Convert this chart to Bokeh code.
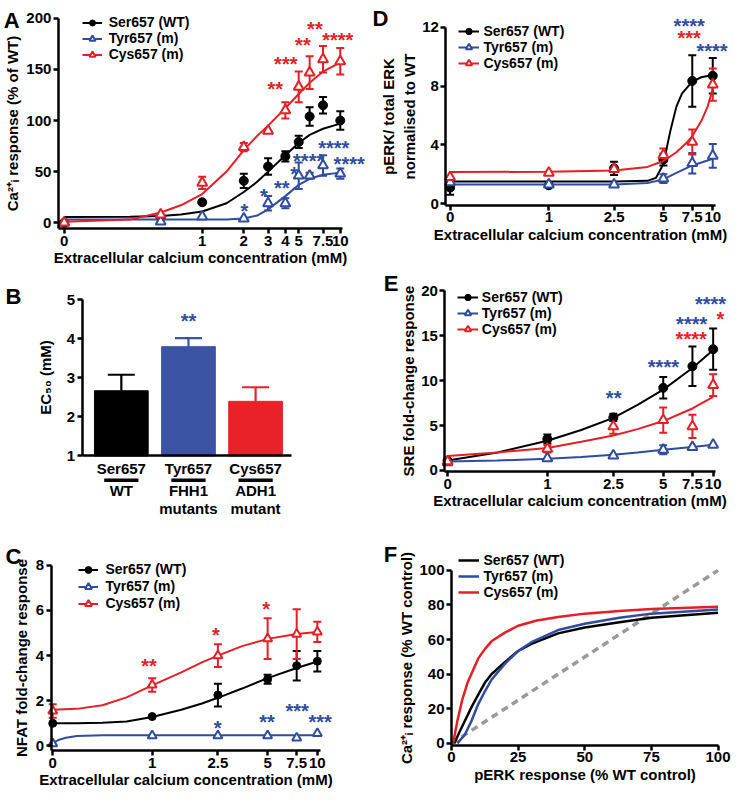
import math
from bokeh.plotting import figure
from bokeh.models import (Range1d, FixedTicker, Whisker, TeeHead, LabelSet, Label,
                          ColumnDataSource, Legend, LegendItem)
from bokeh.layouts import row, column
from bokeh.embed import file_html
from bokeh.resources import INLINE
from bokeh.core.properties import value, field

FONT = "Liberation Sans"
BLACK = "#000000"
BLUE = "#2f4c9f"
RED = "#e41f26"
GREY = "#9a9a9a"
BAR_COLORS = ["#000000", "#3b55a4", "#e92229"]
SERIES = ["Ser657 (WT)", "Tyr657 (m)", "Cys657 (m)"]

# ---------------- Panel A : Ca2+i response ----------------
ZERO_A = 0.1
conc_A = [0, 0.5, 1, 2, 3, 4, 5, 6, 7.5, 10]
ser_A = [0, 5, 20, 41, 55, 65, 79, 104, 115, 100]
ser_A_err = [0, 0, 0, 7, 8, 5, 6, 9, 8, 9]
tyr_A = [0, 1, 6, 4, 19, 19, 46, 46, 56, 48]
tyr_A_err = [0, 0, 0, 0, 7, 5, 13, 3, 10, 5]
cys_A = [0, 8, 39, 74, 90, 110, 133, 147, 160, 158]
cys_A_err = [0, 0, 6, 4, 0, 8, 15, 16, 13, 13]
fit_A_x = [0.1, 0.3, 0.5, 0.7, 1, 1.5, 2, 2.5, 3, 4, 5, 6, 7.5, 10]
ser_A_fit = [5.5, 5.8, 6.5, 8, 11, 19, 30, 40, 50, 66, 78, 86, 92, 97]
tyr_A_fit = [3, 3, 3, 3, 3, 3, 4, 7, 13, 26, 37, 43, 47, 49]
cys_A_fit = [1, 3, 10, 17, 28, 50, 71, 85, 95, 112, 126, 137, 148, 157]
ticks_A = [0, 1, 2, 3, 4, 5, 7.5, 10]
ticklab_A = ["0", "1", "2", "3", "4", "5", "7.5", "10"]
starsA_red_x = [3.38, 4.03, 5.36, 6.55, 9.58]
starsA_red_y = [136, 160, 179, 195, 184]
starsA_red_t = ["**", "***", "**", "**", "****"]
starsA_blue_x = [2.02, 2.8, 3.77, 4.63, 5.9, 8.97, 11.6]
starsA_blue_y = [16.8, 30.6, 38.7, 52.3, 65.2, 78.1, 62.3]
starsA_blue_t = ["*", "*", "**", "*", "****", "****", "****"]

# ---------------- Panel B : EC50 ----------------
cats_B = ["Ser657", "Tyr657", "Cys657"]
sub1_B = ["WT", "FHH1", "ADH1"]
sub2_B = ["", "mutants", "mutant"]
ec50_B = [2.67, 3.8, 2.4]
ec50_B_err = [0.41, 0.22, 0.36]
starsB_y = [4.58]

# ---------------- Panel C : NFAT ----------------
ZERO_C = 0.25
conc_C = [0, 1, 2.5, 5, 7.5, 10]
ser_C = [1.0, 1.3, 2.25, 2.95, 3.55, 3.75]
ser_C_err = [0, 0, 0.5, 0.2, 0.65, 0.45]
tyr_C = [0.1, 0.45, 0.45, 0.45, 0.35, 0.55]
tyr_C_err = [0, 0, 0, 0, 0, 0]
cys_C = [1.55, 2.7, 4.0, 4.75, 4.95, 5.05]
cys_C_err = [0.3, 0.3, 0.5, 0.9, 1.1, 0.45]
fit_C_x = [0.25, 0.35, 0.5, 0.7, 1, 1.5, 2, 2.5, 3.5, 5, 7.5, 10]
ser_C_fit = [1.0, 1.0, 1.02, 1.08, 1.28, 1.6, 1.88, 2.13, 2.54, 3.0, 3.45, 3.74]
cys_C_fit = [1.6, 1.64, 1.8, 2.15, 2.68, 3.26, 3.7, 4.0, 4.42, 4.74, 4.96, 5.04]
fit_C_tyr_x = [0.25, 0.27, 0.3, 0.35, 0.5, 1, 10]
tyr_C_fit = [0.12, 0.26, 0.36, 0.44, 0.47, 0.47, 0.47]
ticks_CDE = [0, 1, 2.5, 5, 7.5, 10]
ticklab_CDE = ["0", "1", "2.5", "5", "7.5", "10"]
starsC_red_x = [0.956, 2.43, 4.89]
starsC_red_y = [3.74, 5.14, 6.30]
starsC_red_t = ["**", "*", "*"]
starsC_blue_x = [2.49, 4.96, 7.55, 10.4]
starsC_blue_y = [1.01, 1.30, 1.78, 1.30]
starsC_blue_t = ["*", "**", "***", "***"]

# ---------------- Panel D : pERK ----------------
conc_D = [0, 1, 2.5, 5, 7.5, 10]
ser_D = [1.1, 1.25, 2.4, 3.0, 8.35, 8.7]
ser_D_err = [0.5, 0, 0.45, 0.4, 1.75, 1.2]
tyr_D = [1.45, 1.3, 1.3, 1.7, 2.75, 3.25]
tyr_D_err = [0, 0, 0, 0.3, 0.7, 0.8]
cys_D = [1.8, 2.1, 2.35, 3.3, 4.2, 8.1]
cys_D_err = [0, 0, 0, 0.45, 0.85, 1.1]
fit_D_ser_x = [0.25, 1, 2.5, 4, 4.5, 5, 5.5, 6, 6.5, 7.5, 8.5, 10]
ser_D_fit = [1.5, 1.5, 1.5, 1.55, 1.75, 2.7, 4.9, 6.6, 7.5, 8.3, 8.6, 8.75]
fit_D_cys_x = [0.25, 1, 2.5, 4, 5, 6, 7, 7.5, 8.5, 9.3, 10]
cys_D_fit = [2.15, 2.17, 2.25, 2.5, 2.9, 3.5, 4.2, 4.6, 5.6, 6.6, 7.8]
fit_D_tyr_x = [0.25, 1, 2.5, 4, 5, 6, 7.5, 10]
tyr_D_fit = [1.3, 1.3, 1.3, 1.4, 1.65, 2.1, 2.6, 3.05]
starsD_x = [7.18, 7.18, 9.9]
starsD_y = [12.44, 11.6, 10.7]
starsD_t = ["****", "***", "****"]
starsD_c = [BLUE, RED, BLUE]

# ---------------- Panel E : SRE ----------------
conc_E = [0, 1, 2.5, 5, 7.5, 10]
ser_E = [1.1, 3.5, 5.9, 9.2, 11.6, 13.5]
ser_E_err = [0, 0.5, 0.4, 1.2, 2.2, 2.3]
tyr_E = [0.9, 1.35, 1.65, 2.3, 2.6, 2.85]
tyr_E_err = [0, 0, 0, 0.5, 0, 0]
cys_E = [1.0, 2.4, 4.9, 5.6, 4.9, 9.5]
cys_E_err = [0, 0.4, 0.8, 1.4, 1.3, 1.2]
fit_E_x = [0.25, 0.5, 1, 1.6, 2.5, 3.5, 5, 7.5, 10]
ser_E_fit = [1.1, 2.0, 3.3, 4.5, 5.85, 7.3, 9.0, 11.4, 13.4]
tyr_E_fit = [1.0, 1.1, 1.3, 1.5, 1.75, 2.0, 2.3, 2.6, 2.85]
cys_E_fit = [1.6, 2.0, 2.5, 3.2, 3.9, 4.6, 5.5, 6.9, 8.2]
starsE_x = [2.51, 5.01, 7.42, 7.37, 9.64, 11.04]
starsE_y = [8.58, 12.04, 16.84, 15.2, 19.13, 17.45]
starsE_t = ["**", "****", "****", "****", "****", "*"]
starsE_c = [BLUE, BLUE, BLUE, RED, BLUE, RED]

# ---------------- Panel F : Ca vs pERK ----------------
ser_F_x = [1, 3, 5, 7.5, 10, 12.5, 15, 20, 25, 30, 40, 50, 63, 75, 100]
ser_F_y = [0, 6.6, 13, 21, 28, 35, 40, 47, 53.4, 57.5, 63.6, 67, 70, 72.6, 75.5]
tyr_F_x = [2.2, 5, 7.5, 10, 12.5, 15, 20, 25, 30, 40, 50, 63, 75, 100]
tyr_F_y = [0, 5, 13, 22.6, 30, 36.8, 46, 53.4, 58.5, 65.5, 69.2, 72.6, 75, 77.4]
cys_F_x = [0.6, 2.2, 4, 6, 8, 10, 12.5, 15, 20, 25, 32, 40, 50, 63, 75, 100]
cys_F_y = [0, 13, 25, 35, 42, 49, 54.5, 59, 64, 68, 71, 73, 75, 76.5, 77.7, 79]
identity_x = [0, 100]
identity_y = [0, 100]
ticks_F = [0, 25, 50, 75, 100]
ticks_F_y = [0, 20, 40, 60, 80, 100]

CA_I = "Ca\u00b2\u207a\u1d62"
XLAB = "Extracellular calcium concentration (mM)"

# ---------------- layout helpers (pixel geometry) ----------------
S = 0.98
PANEL = {"A": (0, 0, 367, 267), "B": (0, 272, 367, 253), "C": (0, 530, 367, 271),
         "D": (375, 0, 367, 257), "E": (375, 262, 367, 272), "F": (375, 540, 367, 262)}
TICK_FS = "15px"
TITLE_FS = "15px"
LEG_FS = "14px"


def xr_lin(key, v1, r1, v2, r2):
    ox, oy, W, H = PANEL[key]
    p1, p2 = (r1 - ox) * S, (r2 - ox) * S
    k = (p2 - p1) / (v2 - v1)
    return Range1d(v1 - p1 / k, v1 + (W - p1) / k)


def xr_log(key, v1, r1, v2, r2):
    ox, oy, W, H = PANEL[key]
    a, b = math.log10(v1), math.log10(v2)
    p1, p2 = (r1 - ox) * S, (r2 - ox) * S
    k = (p2 - p1) / (b - a)
    return Range1d(10 ** (a - p1 / k), 10 ** (a + (W - p1) / k))


def yr_lin(key, v1, r1, v2, r2):
    ox, oy, W, H = PANEL[key]
    p1, p2 = (r1 - oy) * S, (r2 - oy) * S
    k = (p1 - p2) / (v2 - v1)
    return Range1d(v1 - (H - p1) / k, v2 + p2 / k)


def pos(c, zero):
    return [zero if v == 0 else v for v in c]


def make_fig(key, xr, yr, xaxis_at, yaxis_at, xbounds, ybounds, log=False, ylab_standoff=2):
    ox, oy, W, H = PANEL[key]
    p = figure(width=W, height=H, x_range=xr, y_range=yr,
               x_axis_type="log" if log else "linear",
               output_backend="svg", toolbar_location=None, min_border=0)
    p.outline_line_color = None
    p.grid.visible = False
    p.background_fill_color = "white"
    p.border_fill_color = "white"
    for ax in p.axis:
        ax.axis_line_width = 2.5
        ax.axis_line_color = "black"
        ax.major_tick_line_width = 2.5
        ax.major_tick_line_color = "black"
        ax.major_tick_in = 0
        ax.major_tick_out = 5
        ax.minor_tick_line_color = None
        ax.major_label_text_font = FONT
        ax.major_label_text_font_style = "bold"
        ax.major_label_text_font_size = TICK_FS
        ax.major_label_text_color = "black"
        ax.major_label_standoff = 2
        ax.axis_label_text_font = FONT
        ax.axis_label_text_font_style = "bold"
        ax.axis_label_text_font_size = TITLE_FS
        ax.axis_label_text_color = "black"
        ax.axis_label_standoff = 0
    p.xaxis.fixed_location = xaxis_at
    p.xaxis.bounds = xbounds
    p.yaxis.fixed_location = yaxis_at
    p.yaxis.bounds = ybounds
    p.yaxis.axis_label_standoff = ylab_standoff
    return p


def letter(p, key, t, left_ref, base_ref):
    ox, oy, W, H = PANEL[key]
    p.add_layout(Label(x=(left_ref - ox) * S, y=H - (base_ref - oy) * S,
                       x_units="screen", y_units="screen", text=t,
                       text_font=FONT, text_font_style="bold", text_font_size="22px",
                       text_baseline="alphabetic", text_align="left", text_color="black"))


def stars(p, xs, ys, ts, colors, size="20px"):
    src = ColumnDataSource(dict(x=xs, y=ys, t=ts, c=colors))
    p.add_layout(LabelSet(x="x", y="y", text="t", source=src, text_color=field("c"),
                          text_align="center", text_baseline="middle", y_offset=-5,
                          text_font=value(FONT), text_font_style="bold", text_font_size=size))


def whiskers(p, xs, vals, errs, color, head=8):
    keep = [i for i, e in enumerate(errs) if e > 0]
    if not keep:
        return
    src = ColumnDataSource(dict(x=[xs[i] for i in keep],
                                lo=[vals[i] - errs[i] for i in keep],
                                hi=[vals[i] + errs[i] for i in keep]))
    p.add_layout(Whisker(source=src, base="x", lower="lo", upper="hi",
                         line_color=color, line_width=2,
                         upper_head=TeeHead(size=head, line_color=color, line_width=2),
                         lower_head=TeeHead(size=head, line_color=color, line_width=2)))


def dose_series(p, series, zero, msize=9):
    items = []
    for label, color, marker, conc, vals, errs, fx, fy in series:
        xs = pos(conc, zero)
        rl = p.line(fx, fy, line_color=color, line_width=2)
        whiskers(p, xs, vals, errs, color)
        if marker == "circle":
            rp = p.scatter(xs, vals, marker="circle", size=msize, fill_color=color, line_color=color)
        else:
            rp = p.scatter(xs, vals, marker="triangle", size=msize + 1, fill_color="white",
                           line_color=color, line_width=2)
        items.append(LegendItem(label=label, renderers=[rl, rp]))
    return items


def legend(p, key, items, left_ref, top_ref, row_h, standoff, glyph_w):
    ox, oy, W, H = PANEL[key]
    vx = (left_ref - ox) * S
    vy = H - (top_ref - oy) * S - row_h * len(items)
    p.add_layout(Legend(items=items, location=(vx, vy), orientation="vertical",
                        border_line_color=None, background_fill_alpha=0,
                        padding=0, margin=0, spacing=0, glyph_width=int(glyph_w),
                        glyph_height=int(row_h), label_height=int(row_h),
                        label_standoff=int(standoff),
                        label_text_font=FONT, label_text_font_style="bold",
                        label_text_font_size=LEG_FS, label_text_color="black"))


def conc_axis(p, ticks, labs, zero):
    t = pos(ticks, zero)
    p.xaxis.ticker = FixedTicker(ticks=t)
    p.xaxis.major_label_overrides = {float(a): b for a, b in zip(t, labs)}
    p.xaxis.axis_label = XLAB


# ---------- A ----------
pA = make_fig("A", xr_log("A", 0.1, 65, 10, 346.7), yr_lin("A", 0, 226.7, 200, 18.3),
              -6, 0.0907, (0.0907, 10.3), (-6, 200), log=True, ylab_standoff=2)
conc_axis(pA, ticks_A, ticklab_A, ZERO_A)
pA.yaxis.ticker = FixedTicker(ticks=[0, 50, 100, 150, 200])
pA.yaxis.axis_label = CA_I + " response (% of WT)"
itA = dose_series(pA, [
    (SERIES[0], BLACK, "circle", conc_A, ser_A, ser_A_err, fit_A_x, ser_A_fit),
    (SERIES[1], BLUE, "triangle", conc_A, tyr_A, tyr_A_err, fit_A_x, tyr_A_fit),
    (SERIES[2], RED, "triangle", conc_A, cys_A, cys_A_err, fit_A_x, cys_A_fit),
], ZERO_A)
legend(pA, "A", itA, 83.3, 17.5, 15, 7, 20)
stars(pA, starsA_red_x, starsA_red_y, starsA_red_t, [RED] * len(starsA_red_x))
stars(pA, starsA_blue_x, starsA_blue_y, starsA_blue_t, [BLUE] * len(starsA_blue_x))
letter(pA, "A", "A", 3.3, 20)

# ---------- B ----------
xB = list(range(len(cats_B)))
pB = make_fig("B", xr_lin("B", 0, 123.3, 2, 260.3), yr_lin("B", 1, 464.3, 5, 305),
              1, -0.584, (-0.584, 2.531), (1, 5), ylab_standoff=10)
pB.vbar(x=xB, top=ec50_B, bottom=1, width=0.8, fill_color=BAR_COLORS, line_color=BAR_COLORS)
for i in xB:
    src = ColumnDataSource(dict(x=[xB[i]], lo=[ec50_B[i]], hi=[ec50_B[i] + ec50_B_err[i]]))
    pB.add_layout(Whisker(source=src, base="x", lower="lo", upper="hi",
                          line_color=BAR_COLORS[i], line_width=2.2, lower_head=None,
                          upper_head=TeeHead(size=27, line_color=BAR_COLORS[i], line_width=2.2)))
pB.yaxis.ticker = FixedTicker(ticks=[1, 2, 3, 4, 5])
pB.yaxis.axis_label = "EC\u2085\u2080 (mM)"
pB.xaxis.ticker = FixedTicker(ticks=xB)
pB.xaxis.major_tick_line_color = None
pB.xaxis.major_tick_out = 3
pB.xaxis.major_label_standoff = 1
pB.xaxis.major_label_overrides = {float(i): c for i, c in zip(xB, cats_B)}
# group underline and group names beneath the category names
pB.segment(x0=[x - 0.255 for x in xB], x1=[x + 0.255 for x in xB],
           y0=[0.379] * len(xB), y1=[0.379] * len(xB), line_color="black", line_width=3.5)
for texts, yv in [(sub1_B, 0.103), (sub2_B, -0.337)]:
    pB.add_layout(LabelSet(x="x", y="y", text="t",
                           source=ColumnDataSource(dict(x=xB, y=[yv] * len(xB), t=texts)),
                           text_align="center", text_baseline="middle", text_color="black",
                           text_font=value(FONT), text_font_style="bold", text_font_size=TICK_FS))
stars(pB, [xB[1]], starsB_y, ["**"], [BLUE])
letter(pB, "B", "B", 5, 301.7)

# ---------- C ----------
pC = make_fig("C", xr_log("C", 0.25, 53.3, 10, 323.3), yr_lin("C", 0, 760, 8, 575.7),
              -0.22, 0.2445, (0.2445, 10.4), (-0.22, 8), log=True, ylab_standoff=3)
conc_axis(pC, ticks_CDE, ticklab_CDE, ZERO_C)
pC.yaxis.ticker = FixedTicker(ticks=[0, 2, 4, 6, 8])
pC.yaxis.axis_label = "NFAT fold-change response"
itC = dose_series(pC, [
    (SERIES[0], BLACK, "circle", conc_C, ser_C, ser_C_err, fit_C_x, ser_C_fit),
    (SERIES[1], BLUE, "triangle", conc_C, tyr_C, tyr_C_err, fit_C_tyr_x, tyr_C_fit),
    (SERIES[2], RED, "triangle", conc_C, cys_C, cys_C_err, fit_C_x, cys_C_fit),
], ZERO_C, msize=8)
legend(pC, "C", itC, 80, 571.4, 17, 7, 20)
stars(pC, starsC_red_x, starsC_red_y, starsC_red_t, [RED] * 3)
stars(pC, starsC_blue_x, starsC_blue_y, starsC_blue_t, [BLUE] * 4)
letter(pC, "C", "C", 5, 566.7)

# ---------- D ----------
pD = make_fig("D", xr_log("D", 0.25, 459.3, 10, 727.3), yr_lin("D", 0, 207.3, 12, 27.3),
              -0.1, 0.2354, (0.2354, 10.4), (-0.1, 12), log=True, ylab_standoff=1)
conc_axis(pD, ticks_CDE, ticklab_CDE, ZERO_C)
pD.yaxis.ticker = FixedTicker(ticks=[0, 4, 8, 12])
pD.yaxis.axis_label = "pERK/ total ERK\nnormalised to WT"
itD = dose_series(pD, [
    (SERIES[0], BLACK, "circle", conc_D, ser_D, ser_D_err, fit_D_ser_x, ser_D_fit),
    (SERIES[1], BLUE, "triangle", conc_D, tyr_D, tyr_D_err, fit_D_tyr_x, tyr_D_fit),
    (SERIES[2], RED, "triangle", conc_D, cys_D, cys_D_err, fit_D_cys_x, cys_D_fit),
], ZERO_C)
legend(pD, "D", itD, 468.3, 23.8, 16, 4, 21)
stars(pD, starsD_x, starsD_y, starsD_t, starsD_c)
letter(pD, "D", "D", 380, 18.3)

# ---------- E ----------
pE = make_fig("E", xr_log("E", 0.25, 456.7, 10, 727.7), yr_lin("E", 0, 479.3, 20, 296),
              -0.15, 0.241, (0.241, 10.4), (-0.15, 20), log=True, ylab_standoff=1)
conc_axis(pE, ticks_CDE, ticklab_CDE, ZERO_C)
pE.yaxis.ticker = FixedTicker(ticks=[0, 5, 10, 15, 20])
pE.yaxis.axis_label = "SRE fold-change response"
itE = dose_series(pE, [
    (SERIES[0], BLACK, "circle", conc_E, ser_E, ser_E_err, fit_E_x, ser_E_fit),
    (SERIES[1], BLUE, "triangle", conc_E, tyr_E, tyr_E_err, fit_E_x, tyr_E_fit),
    (SERIES[2], RED, "triangle", conc_E, cys_E, cys_E_err, fit_E_x, cys_E_fit),
], ZERO_C)
legend(pE, "E", itE, 466.7, 295, 16, 4, 21)
stars(pE, starsE_x, starsE_y, starsE_t, starsE_c)
letter(pE, "E", "E", 391.7, 288.3)

# ---------- F ----------
pF = make_fig("F", xr_lin("F", 0, 460.7, 100, 732.7), yr_lin("F", 0, 758.3, 100, 581.7),
              -1, 0, (0, 100), (-1, 100), ylab_standoff=1)
pF.xaxis.ticker = FixedTicker(ticks=ticks_F)
pF.yaxis.ticker = FixedTicker(ticks=ticks_F_y)
pF.xaxis.axis_label = "pERK response (% WT control)"
pF.yaxis.axis_label = CA_I + " response (% WT control)"
pF.line(identity_x, identity_y, line_color=GREY, line_width=3.5, line_dash="7 5")
rF = []
for lab, col, fx, fy in [(SERIES[0], BLACK, ser_F_x, ser_F_y),
                         (SERIES[1], BLUE, tyr_F_x, tyr_F_y),
                         (SERIES[2], RED, cys_F_x, cys_F_y)]:
    r = pF.line(fx, fy, line_color=col, line_width=2.5)
    rF.append(LegendItem(label=lab, renderers=[r]))
legend(pF, "F", rF, 468.3, 563.8, 16, 4, 21)
letter(pF, "F", "F", 391.7, 565)

layout = row(column(pA, pB, pC), column(pD, pE, pF))
open("out.html", "w").write(file_html(layout, INLINE))
